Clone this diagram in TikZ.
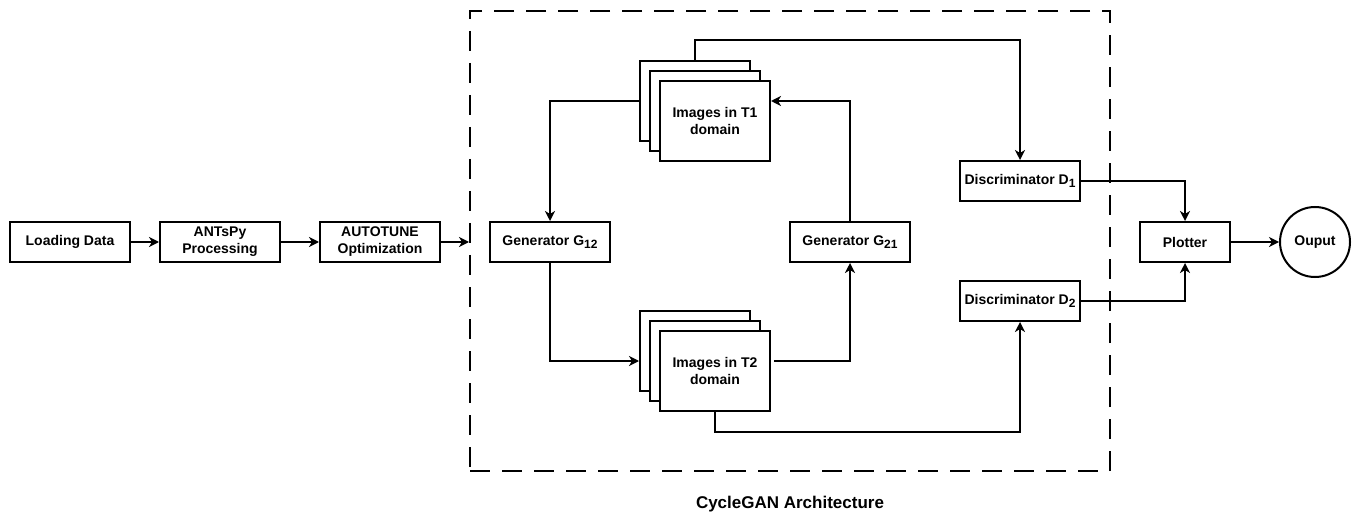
\documentclass[tikz,border=0pt]{standalone}
\usepackage{fontspec}
\setmainfont{Liberation Sans}
\usetikzlibrary{arrows.meta,positioning}

\tikzset{
  bloco/.style={draw, line width=2pt, minimum width=120pt, minimum height=40pt,
    align=center, inner sep=2pt, font=\fontsize{14}{17}\selectfont\bfseries},
  imagem/.style={bloco, fill=white, minimum width=110pt, minimum height=80pt},
  seta/.style={line width=2pt, -{Stealth[length=10pt,width=10pt,inset=3pt]}},
  moldura/.style={draw, line width=2pt, dash pattern=on 20pt off 12pt},
}
\newcommand{\subidx}[1]{\raisebox{-3pt}{\fontsize{12}{12}\selectfont #1}}

\begin{document}
\begin{tikzpicture}[x=1pt, y=-1pt]
			\useasboundingbox (0,0) rectangle (1362,529);
			% Pré-processamento
			\node[bloco] (load) at (70,242) {Loading Data};
			\node[bloco, right=28pt of load] (ants) {ANTsPy\\Processing};
			\node[bloco, right=38pt of ants] (auto) {AUTOTUNE\\Optimization};
			% Moldura da CycleGAN
			\node[moldura, minimum width=640pt, minimum height=460pt] (arch) at (790,241) {};
			\node[font=\fontsize{17}{20}\selectfont\bfseries] (titulo) at (790,504) {CycleGAN Architecture};
			% Geradores
			\node[bloco] (g12) at (550,242) {Generator G\subidx{12}};
			\node[bloco] (g21) at (850,242) {Generator G\subidx{21}};
			% Pilhas de imagens
			\node[imagem] (t1c) at (695,101) {};
			\node[imagem] (t1b) at (705,111) {};
			\node[imagem] (t1) at (715,121) {Images in T1\\domain};
			\node[imagem] (t2c) at (695,351) {};
			\node[imagem] (t2b) at (705,361) {};
			\node[imagem] (t2) at (715,371) {Images in T2\\domain};
			% Discriminadores e saída
			\node[bloco] (d1) at (1020,181) {Discriminator D\subidx{1}};
			\node[bloco] (d2) at (1020,301) {Discriminator D\subidx{2}};
			\node[bloco, minimum width=90pt] (plot) at (1185,242) {Plotter};
			\node[bloco, circle, minimum size=70pt, inner sep=0pt] (out) at (1315,242) {Ouput};
			% Ligações
			\draw[seta] (load) -- (ants);
			\draw[seta] (ants) -- (auto);
			\draw[seta] (auto) -- (auto -| arch.west);
			\draw[seta] (t1c.west) -| (g12.north);
			\draw[seta] (g21.north) |- (t1.east |- t1c.center);
			\draw[seta] (g12.south) |- (t2c.west |- t2b.center);
			\draw[seta, shorten <=3pt] (t2.east |- t2b.center) -| (g21.south);
			\draw[seta] (t1c.north) -- ++(0,-20) -| (d1.north);
			\draw[seta] (t2.south) -- ++(0,20) -| (d2.south);
			\draw[seta] (d1.east) -| (plot.north);
			\draw[seta] (d2.east) -| (plot.south);
			\draw[seta] (plot) -- (out);
\end{tikzpicture}
\end{document}
